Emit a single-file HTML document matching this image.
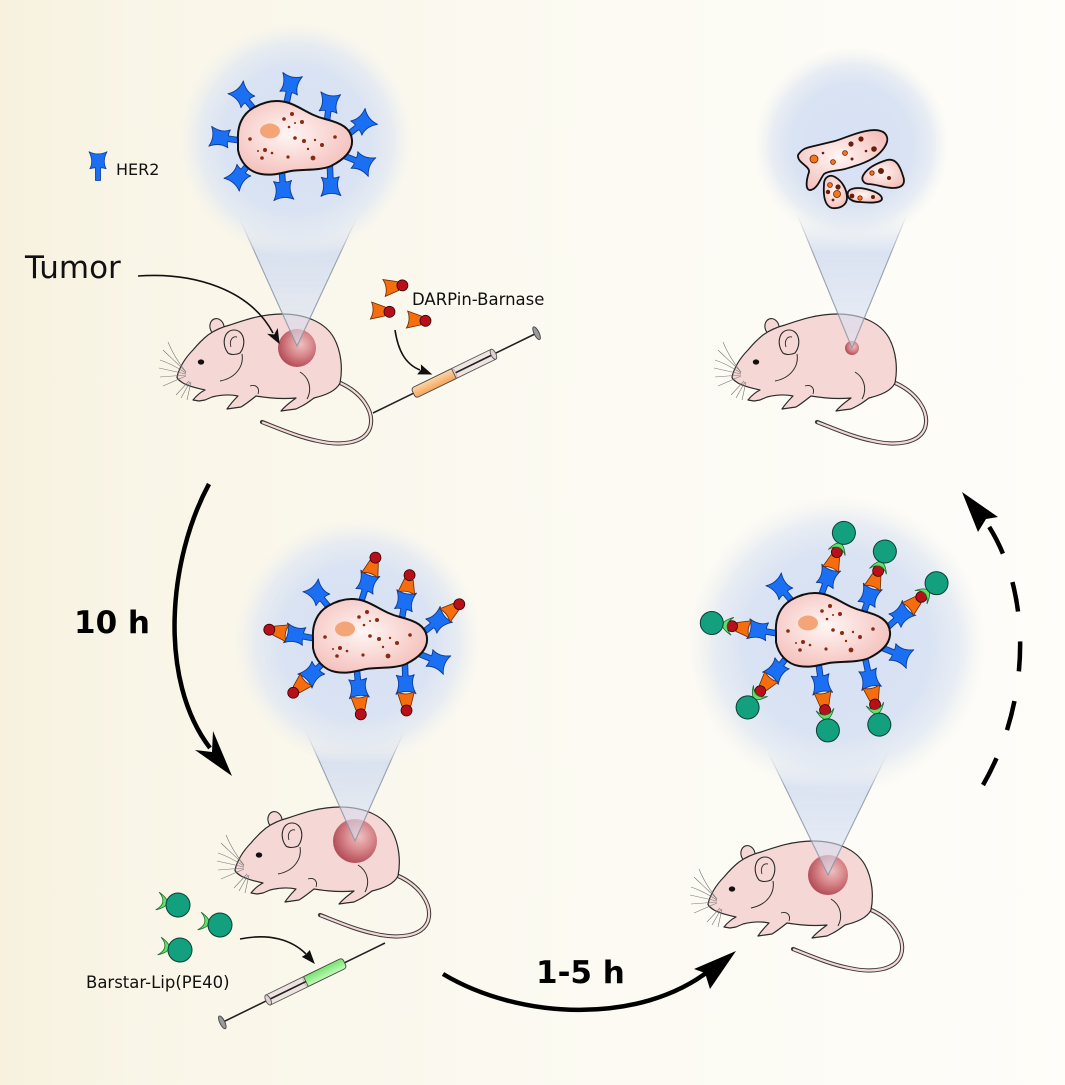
<!DOCTYPE html>
<html><head><meta charset="utf-8"><style>
html,body{margin:0;padding:0;background:#fcfaf3;}
svg{display:block;}
</style></head><body>
<svg width="1065" height="1085" viewBox="0 0 1065 1085" xmlns="http://www.w3.org/2000/svg">
<defs>
<linearGradient id="bg" x1="0" y1="0" x2="1" y2="0">
 <stop offset="0" stop-color="#f7f1de"/>
 <stop offset="0.12" stop-color="#f9f5e7"/>
 <stop offset="0.45" stop-color="#fbf9f0"/>
 <stop offset="1" stop-color="#fefdf9"/>
</linearGradient>
<radialGradient id="glow">
 <stop offset="0" stop-color="#d6e1f4"/>
 <stop offset="0.62" stop-color="#dae3f3"/>
 <stop offset="0.82" stop-color="#e1e8f3" stop-opacity="0.75"/>
 <stop offset="1" stop-color="#eef0f0" stop-opacity="0"/>
</radialGradient>
<linearGradient id="cone" x1="0" y1="0" x2="0" y2="1">
 <stop offset="0" stop-color="#d2ddf2" stop-opacity="0"/>
 <stop offset="0.3" stop-color="#d0dbf1" stop-opacity="0.85"/>
 <stop offset="1" stop-color="#d8e1f3" stop-opacity="0.55"/>
</linearGradient>
<linearGradient id="coneS" x1="0" y1="0" x2="0" y2="1">
 <stop offset="0" stop-color="#8c98a8" stop-opacity="0"/>
 <stop offset="0.3" stop-color="#8c98a8" stop-opacity="1"/>
 <stop offset="1" stop-color="#8c98a8" stop-opacity="1"/>
</linearGradient>
<radialGradient id="cellg" cx="0.45" cy="0.45" r="0.6">
 <stop offset="0" stop-color="#fff6f4"/>
 <stop offset="1" stop-color="#f4c0bc"/>
</radialGradient>
<radialGradient id="tum" cx="0.6" cy="0.4" r="0.6">
 <stop offset="0" stop-color="#eec0c0"/>
 <stop offset="0.5" stop-color="#d98a8e"/>
 <stop offset="1" stop-color="#b6505a"/>
</radialGradient>
<linearGradient id="org" x1="0" y1="0" x2="0" y2="1">
 <stop offset="0" stop-color="#fcd6a8"/>
 <stop offset="1" stop-color="#f4a45c"/>
</linearGradient>
<linearGradient id="grn" x1="0" y1="0" x2="0" y2="1">
 <stop offset="0" stop-color="#c4f8bc"/>
 <stop offset="1" stop-color="#72e46c"/>
</linearGradient>

<g id="her"><path d="M-2.8,5 L-2.8,-9 Q-5,-9.5 -9,-8 Q-4.5,-16.5 -10,-27 Q0,-22 10,-27 Q4.5,-16.5 9,-8 Q5,-9.5 2.8,-9 L2.8,5 Z" fill="#1b6ff2" stroke="#0c3c9a" stroke-width="0.9" stroke-linejoin="round"/></g>
<g id="dar"><use href="#her"/><path d="M-8.5,-25 Q0,-29 8.5,-25 L4.5,-39 L-4.5,-39 Z" fill="#f56d0c" stroke="#6a2a00" stroke-width="0.8"/><circle cx="0" cy="-43.5" r="5.5" fill="#b8101a" stroke="#3a0000" stroke-width="0.8"/></g>
<g id="full"><use href="#dar"/><path d="M-9,-43 Q0,-63 9,-43 Q0,-54 -9,-43 Z" fill="#5fe06b" stroke="#1c6a2c" stroke-width="0.8"/><circle cx="0" cy="-64" r="11.5" fill="#12a07e" stroke="#0a3f33" stroke-width="1"/></g>

<g id="cell">
<path d="M1,40 C0,25 6,14 16,8 C28,1 40,-1 52,3 C64,7 72,15 88,19 C104,23 114,28 115,40 C116,52 106,60 94,66 C82,71 66,69 54,71 C44,73 36,76 24,74 C12,72 3,62 1,50 Z" fill="url(#cellg)" stroke="#111" stroke-width="2"/>
<ellipse cx="33" cy="31" rx="10" ry="7.5" fill="#f4a577"/>
<g fill="#8a2a12">
<circle cx="47" cy="19" r="1.8"/><circle cx="55" cy="14" r="2"/><circle cx="65" cy="22" r="2"/><circle cx="52" cy="27" r="1.3"/>
<circle cx="58" cy="38" r="1.8"/><circle cx="67" cy="41" r="2"/><circle cx="85" cy="45" r="2"/><circle cx="98" cy="37" r="1.8"/>
<circle cx="13" cy="39" r="1.8"/><circle cx="28" cy="50" r="2"/><circle cx="35" cy="53" r="1.3"/><circle cx="25" cy="58" r="1.8"/>
<circle cx="51" cy="57" r="1.6"/><circle cx="76" cy="58" r="2.4"/><circle cx="71" cy="49" r="1.2"/><circle cx="21" cy="51" r="1"/><circle cx="58" cy="23" r="1"/><circle cx="78" cy="40" r="1.2"/>
</g>
</g>

<g id="mouse">
<path d="M338,382 C362,392 375,412 370,428 C364,444 340,446 318,441 C298,437 280,429 262,422" fill="none" stroke="#3a3a3a" stroke-width="4.2" stroke-linecap="round"/>
<path d="M338,382 C362,392 375,412 370,428 C364,444 340,446 318,441 C298,437 280,429 263,422.5" fill="none" stroke="#f5d8d5" stroke-width="2.2" stroke-linecap="round"/>
<ellipse cx="217" cy="327" rx="7" ry="8.5" transform="rotate(-15 217 327)" fill="#f5d8d5" stroke="#2b2b2b" stroke-width="1.1"/>
<path d="M177,377 C179,368 185,358 193,350 C198,344 203,339 208,335 C215,330 222,327 230,325 C245,320 262,314 282,314 C305,314 325,322 334,338 C341,351 343,368 340,383 C336,391 326,395 314,398 C310,401 306,404 302,406 L296,409 L288,410 L281,411 C286,405 292,401 296,398 C284,399 268,398 256,396 C251,400 246,404 241,407 L234,408 L227,409 C231,403 235,399 238,396 C229,394 220,395 212,397 L205,400 L199,401 L193,400 C197,395 201,392 205,390 C196,388 188,386 183,383 C180,381 177,379 177,377 Z" fill="#f5d8d5" stroke="#2b2b2b" stroke-width="1.2" stroke-linejoin="round"/>
<path d="M228,353 C221,344 224,330 234,330 C244,330 247,344 240,353 C236,355 231,355 228,353 Z" fill="#f5d8d5" stroke="#2b2b2b" stroke-width="1.1"/>
<path d="M231,347 C229,341 232,336 237,337" fill="none" stroke="#2b2b2b" stroke-width="0.9"/>
<path d="M242,354 C244,366 236,378 220,381" fill="none" stroke="#2b2b2b" stroke-width="1"/>
<path d="M300,372 C310,378 312,390 307,399" fill="none" stroke="#2b2b2b" stroke-width="1"/>
<path d="M250,386 C256,384 260,388 258,394" fill="none" stroke="#2b2b2b" stroke-width="0.9"/>
<ellipse cx="201" cy="362" rx="3.2" ry="2.6" fill="#111"/>
<g stroke="#777" stroke-width="0.6" fill="none">
<path d="M186,372 C178,362 172,352 168,342"/><path d="M186,372 C176,362 168,355 163,350"/><path d="M186,373 C175,366 166,362 160,360"/><path d="M186,374 L159,368"/><path d="M186,375 L160,377"/><path d="M186,376 L163,386"/>
<path d="M189,381 L176,395"/><path d="M190,382 L181,398"/><path d="M191,382 L187,400"/>
</g>
</g>
</defs>

<rect x="0" y="0" width="1065" height="1085" fill="url(#bg)"/>

<!-- mice -->
<use href="#mouse"/>
<circle cx="297" cy="348" r="19" fill="url(#tum)"/>
<use href="#mouse" transform="translate(58,493)"/>
<circle cx="355" cy="841" r="22" fill="url(#tum)"/>
<use href="#mouse" transform="translate(555,0)"/>
<circle cx="852" cy="348" r="7" fill="url(#tum)"/>
<use href="#mouse" transform="translate(531,527)"/>
<circle cx="828" cy="875" r="20" fill="url(#tum)"/>

<!-- cones -->
<g stroke="url(#coneS)" stroke-width="1.1" fill="url(#cone)" opacity="0.9">
<path d="M238,215 L297,346 L358,215 Z"/>
<path d="M305,729 L355,841 L405,729 Z"/>
<path d="M797,214 L852,348 L907,214 Z"/>
<path d="M767,750 L828,875 L889,750 Z"/>
</g>

<!-- glows -->
<circle cx="296" cy="140" r="118" fill="url(#glow)"/>
<circle cx="357" cy="642" r="124" fill="url(#glow)"/>
<circle cx="852" cy="145" r="98" fill="url(#glow)"/>
<circle cx="837" cy="645" r="150" fill="url(#glow)"/>

<!-- cell 1 -->
<use href="#her" transform="translate(253,108) rotate(-40)"/>
<use href="#her" transform="translate(287,101) rotate(12)"/>
<use href="#her" transform="translate(327,120) rotate(8)"/>
<use href="#her" transform="translate(350,133) rotate(52)"/>
<use href="#her" transform="translate(237,140) rotate(-82)"/>
<use href="#her" transform="translate(347,157) rotate(112)"/>
<use href="#her" transform="translate(249,164) rotate(-140)"/>
<use href="#her" transform="translate(282,173) rotate(176)"/>
<use href="#her" transform="translate(330,169) rotate(178)"/>
<use href="#cell" transform="translate(237,100)"/>

<!-- cell 2 -->
<use href="#her" transform="translate(328,606) rotate(-40)"/>
<use href="#dar" transform="translate(362,599) rotate(18)"/>
<use href="#dar" transform="translate(402,618) rotate(10)"/>
<use href="#dar" transform="translate(425,631) rotate(52)"/>
<use href="#dar" transform="translate(312,638) rotate(-79)"/>
<use href="#her" transform="translate(422,655) rotate(112)"/>
<use href="#dar" transform="translate(324,662) rotate(-135)"/>
<use href="#dar" transform="translate(357,671) rotate(175)"/>
<use href="#dar" transform="translate(405,667) rotate(178)"/>
<use href="#cell" transform="translate(312,598)"/>

<!-- cell 4 -->
<use href="#her" transform="translate(791,600) rotate(-40)"/>
<use href="#full" transform="translate(822,593) rotate(20)"/>
<use href="#full" transform="translate(864,612) rotate(19)"/>
<use href="#full" transform="translate(889,626) rotate(48)"/>
<use href="#full" transform="translate(775,633) rotate(-81)"/>
<use href="#her" transform="translate(885,649) rotate(112)"/>
<use href="#full" transform="translate(787,657) rotate(-142)"/>
<use href="#full" transform="translate(819,667) rotate(172)"/>
<use href="#full" transform="translate(866,662) rotate(168)"/>
<use href="#cell" transform="translate(775,592)"/>

<!-- dead cells -->
<g fill="url(#cellg)" stroke="#111" stroke-width="1.8" stroke-linejoin="round">
<path d="M798,155 C802,149 806,148 810,147 C818,145 827,143 835,141 C845,138 855,133 866,131 C876,129 885,130 887,137 C889,143 882,152 875,157 C866,163 855,166 845,169 C836,171 828,171 824,174 C820,179 818,188 811,190 C805,191 806,181 809,172 C810,166 797,163 798,155 Z"/>
<path d="M864,174 C868,168 877,163 887,160 C896,158 900,166 903,176 C906,184 902,188 893,188 C884,188 876,184 868,184 C862,183 861,178 864,174 Z"/>
<path d="M824,184 C824,177 830,174 835,177 C842,181 847,189 847,198 C847,205 840,209 832,208 C825,206 823,197 824,184 Z"/>
<path d="M848,192 C850,188 858,187 866,189 C874,191 882,194 882,199 C881,203 870,203 860,202 C852,202 846,198 848,192 Z"/>
</g>
<g fill="#f3781a" stroke="#6a1e08" stroke-width="0.8">
<circle cx="814" cy="159" r="4"/><circle cx="833" cy="162" r="2.4"/><circle cx="845" cy="153" r="2.4"/><circle cx="872" cy="173" r="2.2"/><circle cx="830" cy="185" r="2.4"/><circle cx="837" cy="194" r="3.5"/><circle cx="860" cy="198" r="2.2"/>
</g>
<g fill="#6a1e08">
<circle cx="823" cy="153" r="1.3"/><circle cx="851" cy="144" r="2.6"/><circle cx="861" cy="139" r="2.6"/><circle cx="852" cy="159" r="1.5"/><circle cx="866" cy="151" r="1.3"/><circle cx="874" cy="149" r="2.8"/>
<circle cx="881" cy="171" r="3"/><circle cx="889" cy="178" r="2"/><circle cx="838" cy="187" r="2.6"/><circle cx="828" cy="192" r="2.2"/><circle cx="833" cy="200" r="1.4"/><circle cx="852" cy="196" r="2.4"/><circle cx="873" cy="197" r="2"/>
</g>

<!-- legends -->
<use href="#her" transform="translate(98,176) scale(0.9)"/>
<text x="116" y="175" font-family="'DejaVu Sans', 'Liberation Sans', sans-serif" font-size="16" fill="#111">HER2</text>
<text x="25" y="278" font-family="'DejaVu Sans', 'Liberation Sans', sans-serif" font-size="31" fill="#111">Tumor</text>
<path d="M138,276 C195,272 250,290 273,333" fill="none" stroke="#111" stroke-width="1.6"/>
<path d="M279,343 L268.6,334.4 L274.5,335 L277.4,329.6 Z" fill="#111" stroke="#111" stroke-width="1"/>

<g transform="translate(391,287) rotate(82) translate(0,32)">
<path d="M-8.5,-25 Q0,-29 8.5,-25 L4.5,-39 L-4.5,-39 Z" fill="#f56d0c" stroke="#6a2a00" stroke-width="0.8"/><circle cx="0" cy="-43.5" r="5.5" fill="#b8101a" stroke="#3a0000" stroke-width="0.8"/></g>
<g transform="translate(378,311) rotate(94) translate(0,32)">
<path d="M-8.5,-25 Q0,-29 8.5,-25 L4.5,-39 L-4.5,-39 Z" fill="#f56d0c" stroke="#6a2a00" stroke-width="0.8"/><circle cx="0" cy="-43.5" r="5.5" fill="#b8101a" stroke="#3a0000" stroke-width="0.8"/></g>
<g transform="translate(414,320) rotate(94) translate(0,32)">
<path d="M-8.5,-25 Q0,-29 8.5,-25 L4.5,-39 L-4.5,-39 Z" fill="#f56d0c" stroke="#6a2a00" stroke-width="0.8"/><circle cx="0" cy="-43.5" r="5.5" fill="#b8101a" stroke="#3a0000" stroke-width="0.8"/></g>
<text x="412" y="305" font-family="'DejaVu Sans', 'Liberation Sans', sans-serif" font-size="16.5" fill="#111">DARPin-Barnase</text>
<path d="M395,330 C398,350 405,364 420,370" fill="none" stroke="#111" stroke-width="1.6"/>
<path d="M431,374 L418.2,373.9 L421.5,369.8 L421.4,365.5 Z" fill="#111" stroke="#111" stroke-width="1"/>

<!-- syringe 1 -->
<g transform="translate(373,413) rotate(-26)">
<line x1="0" y1="0" x2="46" y2="0" stroke="#222" stroke-width="1.6"/>
<line x1="92" y1="0" x2="181" y2="0" stroke="#222" stroke-width="1.6"/>
<rect x="45" y="-5.5" width="47" height="11" rx="3" fill="url(#org)" stroke="#444" stroke-width="0.9"/>
<rect x="90" y="-5.5" width="44" height="11" fill="#eadcdc" fill-opacity="0.75" stroke="#555" stroke-width="0.9"/>
<line x1="92" y1="0" x2="134" y2="0" stroke="#222" stroke-width="1.6"/>
<ellipse cx="134" cy="0" rx="2.5" ry="5.5" fill="#e0d0d0" stroke="#555" stroke-width="0.9"/>
<ellipse cx="182" cy="0" rx="2.5" ry="7" fill="#9a9a9a" stroke="#444" stroke-width="0.9"/>
</g>

<!-- barstar legend -->
<g transform="translate(178,905) rotate(101)"><path d="M-9,21 Q0,1 9,21 Q0,10 -9,21 Z" fill="#5fe06b" stroke="#1c6a2c" stroke-width="0.8"/><circle cx="0" cy="0" r="12" fill="#12a07e" stroke="#0a3f33" stroke-width="1"/></g>
<g transform="translate(220,925) rotate(101)"><path d="M-9,21 Q0,1 9,21 Q0,10 -9,21 Z" fill="#5fe06b" stroke="#1c6a2c" stroke-width="0.8"/><circle cx="0" cy="0" r="12" fill="#12a07e" stroke="#0a3f33" stroke-width="1"/></g>
<g transform="translate(180,950) rotate(101)"><path d="M-9,21 Q0,1 9,21 Q0,10 -9,21 Z" fill="#5fe06b" stroke="#1c6a2c" stroke-width="0.8"/><circle cx="0" cy="0" r="12" fill="#12a07e" stroke="#0a3f33" stroke-width="1"/></g>
<text x="86" y="988" font-family="'DejaVu Sans', 'Liberation Sans', sans-serif" font-size="16.5" fill="#111">Barstar-Lip(PE40)</text>
<path d="M240,939 C270,933 292,940 306,954" fill="none" stroke="#111" stroke-width="1.6"/>
<path d="M314,963 L302.8,956.8 L306.5,954.5 L309.6,951 Z" fill="#111" stroke="#111" stroke-width="1"/>

<!-- syringe 2 -->
<g transform="translate(385,943) rotate(154)">
<line x1="0" y1="0" x2="46" y2="0" stroke="#222" stroke-width="1.6"/>
<line x1="88" y1="0" x2="180" y2="0" stroke="#222" stroke-width="1.6"/>
<rect x="45" y="-5.5" width="45" height="11" rx="3" fill="url(#grn)" stroke="#444" stroke-width="0.9"/>
<rect x="88" y="-5.5" width="42" height="11" fill="#eadcdc" fill-opacity="0.75" stroke="#555" stroke-width="0.9"/>
<line x1="88" y1="0" x2="130" y2="0" stroke="#222" stroke-width="1.6"/>
<ellipse cx="130" cy="0" rx="2.5" ry="5.5" fill="#e0d0d0" stroke="#555" stroke-width="0.9"/>
<ellipse cx="181" cy="0" rx="2.5" ry="7" fill="#9a9a9a" stroke="#444" stroke-width="0.9"/>
</g>

<!-- big arrows -->
<text x="74" y="633" font-family="'DejaVu Sans', 'Liberation Sans', sans-serif" font-size="31" font-weight="bold" fill="#000">10 h</text>
<path d="M209,484 C168,560 158,680 210,748" fill="none" stroke="#000" stroke-width="4.5"/>
<path d="M232,776 L195,750 L212,752 L213,731 Z" fill="#000"/>

<text x="536" y="983" font-family="'DejaVu Sans', 'Liberation Sans', sans-serif" font-size="31" font-weight="bold" fill="#000">1-5 h</text>
<path d="M443,974 C520,1020 640,1025 710,970" fill="none" stroke="#000" stroke-width="4.5"/>
<path d="M736,951 L694,969 L705,973 L710,989 Z" fill="#000"/>

<path d="M983,785 C1032,700 1032,590 986,522" fill="none" stroke="#000" stroke-width="4.5" stroke-dasharray="30 30"/>
<path d="M962,492 L998,517 L986,519 L978,532 Z" fill="#000"/>
</svg>
</body></html>
